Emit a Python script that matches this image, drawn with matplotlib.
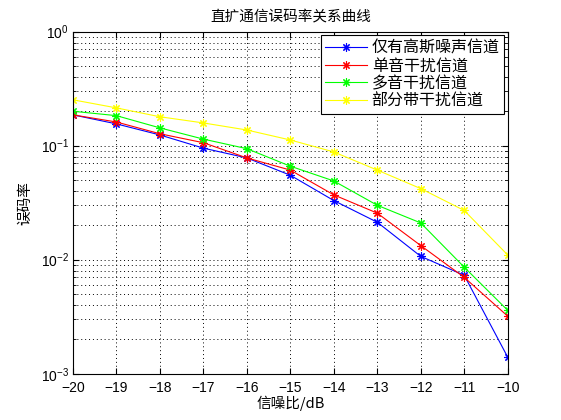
import numpy as np
import matplotlib
matplotlib.use("Agg")
import matplotlib.pyplot as plt
from matplotlib.ticker import LogLocator, FixedLocator

plt.rcParams['font.family'] = ['Liberation Sans', 'Noto Sans CJK SC', 'DejaVu Sans']
plt.rcParams['mathtext.fontset'] = 'custom'
plt.rcParams['mathtext.rm'] = 'Liberation Sans'

# data
snr = [-20, -19, -18, -17, -16, -15, -14, -13, -12, -11, -10]
ber_gauss = [0.186, 0.155, 0.124, 0.095, 0.078, 0.055, 0.033, 0.0213, 0.0107, 0.0073, 0.0014]
ber_single = [0.186, 0.161, 0.127, 0.106, 0.078, 0.061, 0.037, 0.0256, 0.0133, 0.0070, 0.0032]
ber_multi = [0.200, 0.183, 0.143, 0.114, 0.094, 0.066, 0.049, 0.030, 0.021, 0.0086, 0.0036]
ber_partial = [0.252, 0.214, 0.179, 0.158, 0.137, 0.112, 0.088, 0.061, 0.042, 0.027, 0.011]
names = ['仅有高斯噪声信道', '单音干扰信道', '多音干扰信道', '部分带干扰信道']
colors = ['b', 'r', (0, 1, 0), (1, 1, 0)]

fig = plt.figure(figsize=(5.61, 4.2), dpi=100)
ax = fig.add_axes([0.13, 0.11, 0.775, 0.815])

for ber, name, c in zip([ber_gauss, ber_single, ber_multi, ber_partial], names, colors):
    ax.semilogy(snr, ber, color=c, marker=(8, 2, 0), markersize=6, linewidth=0.8,
                markeredgewidth=0.8, label=name)

ax.set_xlim(-20, -10)
ax.set_ylim(1e-3, 1)
ax.xaxis.set_major_locator(FixedLocator(snr))
ax.yaxis.set_major_locator(LogLocator(base=10))
ax.yaxis.set_minor_locator(LogLocator(base=10, subs=np.arange(2, 10)))
ax.yaxis.set_minor_formatter(plt.NullFormatter())

dots = (0, (1, 3))
ax.grid(True, which='major', linestyle=dots, color='k', linewidth=0.7)
ax.grid(True, which='minor', axis='y', linestyle=dots, color='k', linewidth=0.7)
ax.tick_params(which='both', direction='in', top=True, right=True, labelsize=10)
ax.tick_params(which='major', length=4)
ax.tick_params(which='minor', length=2)
ax.tick_params(axis='x', pad=5)
ax.tick_params(axis='y', pad=3)
for s in ax.spines.values():
    s.set_linewidth(0.8)

ax.set_title('直扩通信误码率关系曲线', fontsize=10.5, family=['Noto Sans CJK SC'], pad=8)
ax.set_xlabel('信噪比/dB', fontsize=10.5, family=['Noto Sans CJK SC', 'DejaVu Sans'], labelpad=1)
ax.set_ylabel('误码率', fontsize=10.5, family=['Noto Sans CJK SC'], labelpad=6)

leg = ax.legend(loc='upper right', prop={'family': 'Noto Sans CJK SC', 'size': 11.5},
                fancybox=False, edgecolor='k', framealpha=1, borderaxespad=0.25,
                handlelength=2.6, handletextpad=0.3, labelspacing=0.05, borderpad=0.25)
leg.get_frame().set_linewidth(0.8)

fig.savefig('out.png', dpi=100)
